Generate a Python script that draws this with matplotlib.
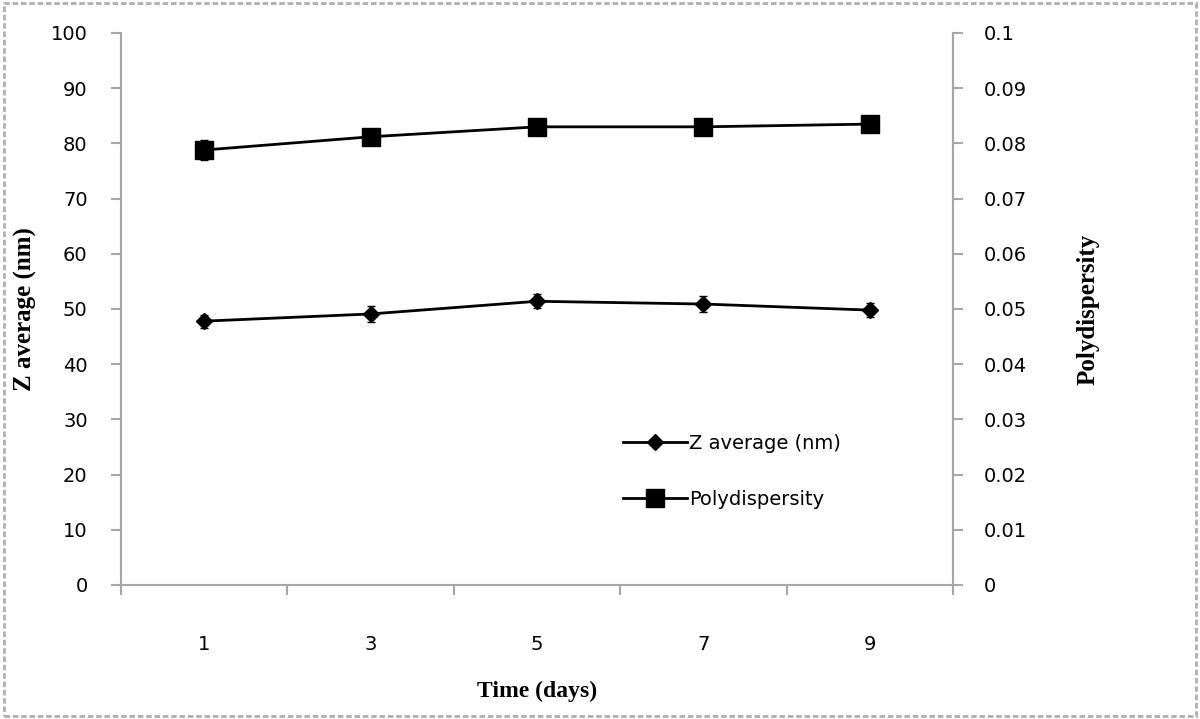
import matplotlib
matplotlib.use('Agg')
import matplotlib.pyplot as plt
from matplotlib.patches import Rectangle
from matplotlib.lines import Line2D

days = ['1', '3', '5', '7', '9']
z_avg = [47.8, 49.1, 51.4, 50.9, 49.8]
z_err = [1.2, 1.5, 1.3, 1.4, 1.2]
pdi = [0.0788, 0.0812, 0.0830, 0.0830, 0.0835]
pdi_err = [0.0018, 0.0010, 0.0010, 0.0010, 0.0012]

axis_grey = '#a6a6a6'
serif = 'Liberation Serif'

fig = plt.figure(figsize=(12, 7.19), dpi=100)
ax = fig.add_axes([121/1200, 1 - 585/719, (953 - 121)/1200, (585 - 33)/719])
ax2 = ax.twinx()

x = [i + 0.5 for i in range(len(days))]

ax.errorbar(x, z_avg, yerr=z_err, color='black', lw=2, marker='D', ms=8,
            capsize=3, elinewidth=1.5)
ax2.errorbar(x, pdi, yerr=pdi_err, color='black', lw=2, marker='s', ms=13,
             capsize=3, elinewidth=1.5)

ax.set_xlim(0, 5)
ax.set_ylim(0, 100)
ax2.set_ylim(0, 0.1)
ax.set_yticks(range(0, 101, 10))
ax2.set_yticks([i / 100 for i in range(11)])
ax2.set_yticklabels(['0'] + ['%g' % (i / 100) for i in range(1, 11)])

ax.set_xticks(range(6))
ax.set_xticklabels([])
ax.set_xticks(x, minor=True)
ax.set_xticklabels(days, minor=True)
ax.tick_params(axis='x', which='minor', length=0, pad=36, labelsize=14)
ax.tick_params(axis='x', which='major', length=7, color=axis_grey, width=1.5)
ax.tick_params(axis='y', length=7, color=axis_grey, width=1.5, labelsize=14, pad=17)
ax2.tick_params(axis='y', length=7, color=axis_grey, width=1.5, labelsize=14, pad=15)

for a in (ax, ax2):
    a.spines['top'].set_visible(False)
    for s in ('left', 'right', 'bottom'):
        a.spines[s].set_color(axis_grey)
        a.spines[s].set_linewidth(1.5)
ax.spines['right'].set_visible(False)
ax2.spines['left'].set_visible(False)
ax2.spines['bottom'].set_visible(False)

ax.set_xlabel('Time (days)', fontfamily=serif, fontweight='bold', fontsize=17, labelpad=19)
ax.set_ylabel('Z average (nm)', fontfamily=serif, fontweight='bold', fontsize=18, labelpad=10)
ax2.set_ylabel('Polydispersity', fontfamily=serif, fontweight='bold', fontsize=18, labelpad=36)

handles = [Line2D([], [], color='black', lw=2, marker='D', ms=8),
           Line2D([], [], color='black', lw=2, marker='s', ms=13)]
ax.legend(handles, ['Z average (nm)', 'Polydispersity'], loc='upper left',
          bbox_to_anchor=(0.582, 0.305), frameon=False, fontsize=14,
          labelspacing=1.9, handlelength=3.3, handletextpad=0.1)

fig.patches.append(Rectangle((0.003, 0.004), 0.994, 0.992, transform=fig.transFigure,
                             fill=False, edgecolor='#b0b0b0', lw=2, ls=(0, (2, 1))))

fig.savefig('out.png', dpi=100)
